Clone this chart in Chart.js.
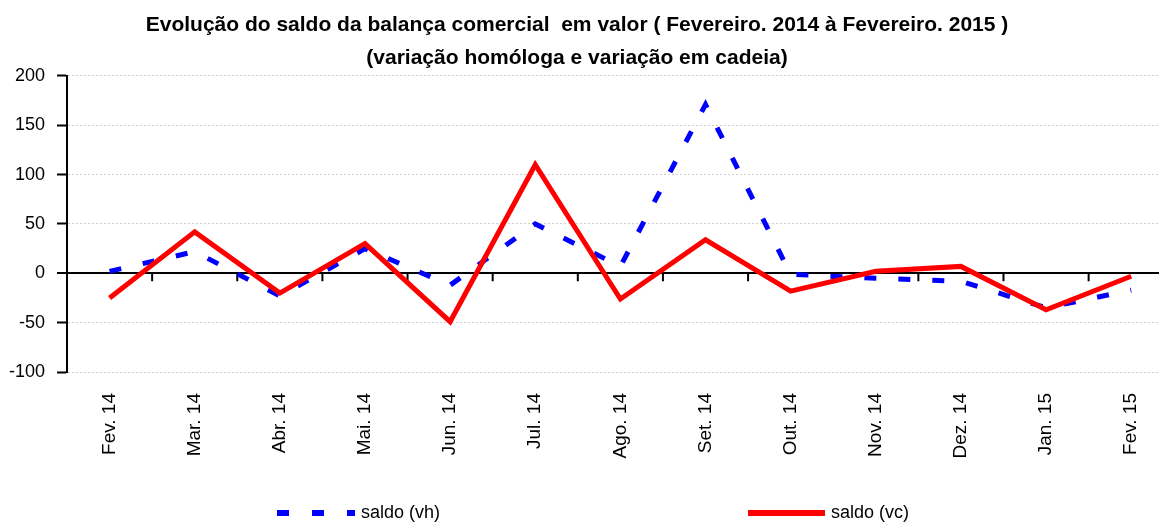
<!DOCTYPE html>
<html>
<head>
<meta charset="utf-8">
<script src="https://cdn.jsdelivr.net/npm/chart.js@4"></script>
<style>
  html, body { margin: 0; padding: 0; background: #fff; overflow: hidden; }
  #wrap { position: relative; width: 1159px; height: 525px; overflow: hidden; }
  #box { position: absolute; left: 0; top: 0; width: 1175px; height: 525px; }
  .leg { position: absolute; font-family: "Liberation Sans", Arial, sans-serif; font-size: 18px; color: #000; }
  .sw { position: absolute; height: 6px; }
</style>
</head>
<body>
<div id="wrap">
  <div id="box"><canvas id="grafico"></canvas></div>
  <!-- legenda feita à mão, espaçada como no Excel -->
  <div class="sw" style="left:277px; top:510px; width:78px; background: repeating-linear-gradient(90deg, #0000ff 0 12px, transparent 12px 35px);"></div>
  <div class="leg" style="left:361px; top:502px;">saldo (vh)</div>
  <div class="sw" style="left:748px; top:510px; width:77px; background:#ff0000;"></div>
  <div class="leg" style="left:831px; top:502px;">saldo (vc)</div>
</div>
<script>
// ===============================
// Dados
// ===============================
const meses = ["Fev. 14", "Mar. 14", "Abr. 14", "Mai. 14", "Jun. 14", "Jul. 14", "Ago. 14",
  "Set. 14", "Out. 14", "Nov. 14", "Dez. 14", "Jan. 15", "Fev. 15"];
const saldoVH = [2, 22, -23, 25, -12, 50, 7, 171, -1, -5, -8, -35, -17];
const saldoVC = [-25, 42, -20, 30, -49, 110, -26, 34, -18, 2, 7, -37, -3];
const ticksY = [-100, -50, 0, 50, 100, 150, 200];

const FONTE = "'Liberation Sans', Arial, sans-serif";
// padding negativo à esquerda só para o título ficar centrado como no original
const PAD_ESQ = -21;

// Tracinhos do eixo x sobre a linha do zero (entre categorias)
const marcasEixoX = {
  id: "marcasEixoX",
  beforeDatasetsDraw(chart) {
    const xs = chart.scales.x;
    const ys = chart.scales.y;
    const ctx = chart.ctx;
    const y0 = ys.getPixelForValue(0);
    ctx.save();
    ctx.strokeStyle = "#000";
    ctx.lineWidth = 2;
    ctx.beginPath();
    for (let i = 1; i < meses.length; i++) {
      const x = (xs.getPixelForValue(i - 1) + xs.getPixelForValue(i)) / 2;
      ctx.moveTo(x, y0);
      ctx.lineTo(x, y0 + 8);
    }
    ctx.stroke();
    ctx.restore();
  }
};

const ctx = document.getElementById("grafico");
new Chart(ctx, {
  type: "line",
  data: {
    labels: meses,
    datasets: [
      {
        label: "saldo (vh)",
        data: saldoVH,
        borderColor: "#0000ff",
        borderWidth: 5,
        borderDash: [12, 22],
        borderCapStyle: "butt",
        pointRadius: 0,
        tension: 0,
        fill: false,
        order: 2
      },
      {
        label: "saldo (vc)",
        data: saldoVC,
        borderColor: "#ff0000",
        borderWidth: 5,
        borderJoinStyle: "miter",
        pointRadius: 0,
        tension: 0,
        fill: false,
        order: 1
      }
    ]
  },
  options: {
    responsive: true,
    maintainAspectRatio: false,
    animation: false,
    layout: { padding: { top: 9, right: 0, bottom: 0, left: PAD_ESQ } },
    plugins: {
      legend: { display: false },
      tooltip: { enabled: false },
      title: {
        display: true,
        text: [
          "Evolução do saldo da balança comercial  em valor ( Fevereiro. 2014 à Fevereiro. 2015 )",
          "(variação homóloga e variação em cadeia)"
        ],
        color: "#000",
        font: { family: FONTE, size: 21, weight: "bold", lineHeight: 1.57 },
        padding: { top: 0, bottom: 1 }
      }
    },
    scales: {
      x: {
        offset: true,
        grid: { display: false, drawTicks: false },
        border: { display: false },
        ticks: {
          color: "#000",
          font: { family: FONTE, size: 19 },
          minRotation: 90,
          maxRotation: 90,
          padding: 21,
          autoSkip: false
        },
        afterFit(scale) { scale.height = 153; }
      },
      y: {
        min: -100,
        max: 200,
        afterBuildTicks(scale) { scale.ticks = ticksY.map(v => ({ value: v })); },
        grid: {
          color: c => (c.tick && c.tick.value === 0 ? "#000" : "#cfcfcf"),
          lineWidth: c => (c.tick && c.tick.value === 0 ? 2 : 1),
          tickColor: "#000",
          tickLength: 10,
          tickWidth: 2
        },
        border: {
          display: true,
          color: "#000",
          width: 2,
          dash: c => (c.tick && c.tick.value === 0 ? [] : [2, 2])
        },
        ticks: {
          color: "#000",
          font: { family: FONTE, size: 18 },
          padding: 12
        },
        afterFit(scale) { scale.width = 67 - PAD_ESQ; }
      }
    }
  },
  plugins: [marcasEixoX]
});
</script>
</body>
</html>
